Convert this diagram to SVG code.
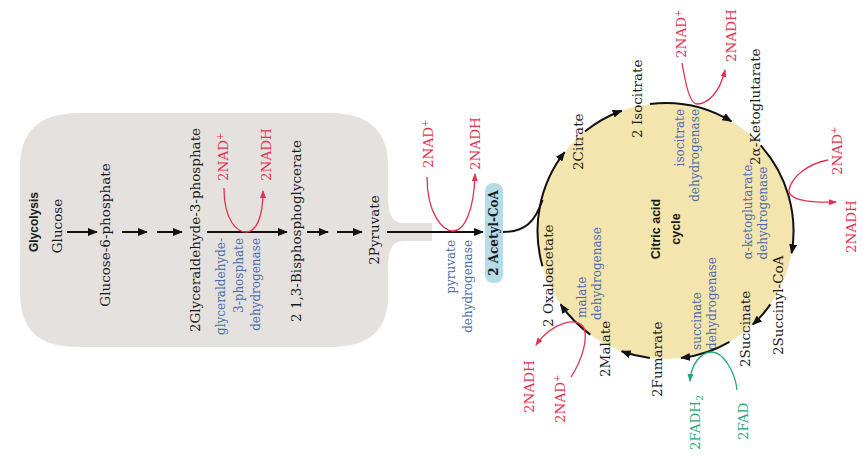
<svg xmlns="http://www.w3.org/2000/svg" width="867" height="456" viewBox="0 0 867 456">
<style>
.c{font-family:"DejaVu Serif","Liberation Serif",serif;font-size:13.5px;fill:#1a1a1a}
.e{font-family:"DejaVu Serif","Liberation Serif",serif;font-size:12px;fill:#4a6cad}
.r{font-family:"DejaVu Serif","Liberation Serif",serif;font-size:13.5px;fill:#e3324f}
.g{font-family:"DejaVu Serif","Liberation Serif",serif;font-size:13.5px;fill:#1fa97a}
.h{font-family:"Liberation Sans",Arial,sans-serif;font-weight:bold;fill:#1a1a1a}
.m{text-anchor:middle}
.n{text-anchor:end}
.k{fill:none;stroke:#111;stroke-width:2}
.rl{fill:none;stroke:#e3324f;stroke-width:1.3}
.gl{fill:none;stroke:#1fa97a;stroke-width:1.3}
</style>
<defs>
<marker id="ah" viewBox="0 0 10 8" markerWidth="10" markerHeight="8" refX="9" refY="4" orient="auto" markerUnits="userSpaceOnUse"><path d="M0,0 L10,4 L0,8 z" fill="#111"/></marker>
<marker id="ar" viewBox="0 0 8 6" markerWidth="8" markerHeight="6" refX="7" refY="3" orient="auto" markerUnits="userSpaceOnUse"><path d="M0,0 L8,3 L0,6 z" fill="#e3324f"/></marker>
<marker id="ag" viewBox="0 0 8 6" markerWidth="8" markerHeight="6" refX="7" refY="3" orient="auto" markerUnits="userSpaceOnUse"><path d="M0,0 L8,3 L0,6 z" fill="#1fa97a"/></marker>
</defs>
<rect width="867" height="456" fill="#ffffff"/>

<g id="glycolysis-panel">
<path d="M80,113 H330 C370,113 388,132 388,165 V196 C388,214 392,223 404,223 H432 V241 H404 C392,241 388,250 388,268 V296 C388,330 370,347 330,347 H80 C38,347 20,330 20,292 V168 C20,132 38,113 80,113 Z" fill="#e4e1df"/>
<text class="h m" font-size="12" transform="translate(38,222) rotate(-90)">Glycolysis</text>
</g>

<g id="citric-cycle">
<circle cx="665.5" cy="231" r="128" fill="#f4e4ae"/>
<text class="h m" font-size="12.5" transform="translate(660,229) rotate(-90)">Citric acid</text>
<text class="h m" font-size="12.5" transform="translate(680,229) rotate(-90)">cycle</text>
</g>

<g id="glucose"><text class="c m" transform="translate(62,226) rotate(-90)">Glucose</text></g>
<g id="glucose-6-phosphate"><text class="c m" transform="translate(110,235) rotate(-90)">Glucose-6-phosphate</text></g>
<g id="glyceraldehyde-3-phosphate"><text class="c m" transform="translate(200,230) rotate(-90)">2Glyceraldehyde-3-phosphate</text></g>
<g id="bisphosphoglycerate"><text class="c m" transform="translate(301,231) rotate(-90)">2 1,3-Bisphosphoglycerate</text></g>
<g id="pyruvate"><text class="c m" transform="translate(379,230) rotate(-90)">2Pyruvate</text></g>
<g id="acetyl-coa">
<rect x="485" y="183" width="18" height="100" rx="8" fill="#b6dbe9"/>
<text font-family="'DejaVu Serif','Liberation Serif',serif" font-weight="bold" font-size="12" fill="#1a1a1a" text-anchor="middle" transform="translate(498,233) rotate(-90)">2 Acetyl-CoA</text>
</g>
<g id="citrate"><text class="c" transform="translate(583,170) rotate(-90)">2Citrate</text></g>
<g id="isocitrate"><text class="c" transform="translate(642,138) rotate(-90)">2 Isocitrate</text></g>
<g id="ketoglutarate"><text class="c" transform="translate(760,165) rotate(-90)">2α-Ketoglutarate</text></g>
<g id="succinyl-coa"><text class="c" transform="translate(783,355) rotate(-90)">2Succinyl-CoA</text></g>
<g id="succinate"><text class="c" transform="translate(750,367) rotate(-90)">2Succinate</text></g>
<g id="fumarate"><text class="c" transform="translate(662,397) rotate(-90)">2Fumarate</text></g>
<g id="malate"><text class="c" transform="translate(610,377) rotate(-90)">2Malate</text></g>
<g id="oxaloacetate"><text class="c" transform="translate(553,327) rotate(-90)">2 Oxaloacetate</text></g>

<g id="enzyme-gapdh">
<text class="e n" transform="translate(225,238) rotate(-90)">glyceraldehyde-</text>
<text class="e n" transform="translate(242.5,238) rotate(-90)">3-phosphate</text>
<text class="e n" transform="translate(260,238) rotate(-90)">dehydrogenase</text>
</g>
<g id="enzyme-pdh">
<text class="e n" transform="translate(455,240) rotate(-90)">pyruvate</text>
<text class="e n" transform="translate(472,240) rotate(-90)">dehydrogenase</text>
</g>
<g id="enzyme-idh">
<text class="e n" transform="translate(684,109) rotate(-90)">isocitrate</text>
<text class="e n" transform="translate(699,109) rotate(-90)">dehydrogenase</text>
</g>
<g id="enzyme-akgdh">
<text class="e m" transform="translate(752,212) rotate(-90)">α-ketoglutarate</text>
<text class="e m" transform="translate(767,213) rotate(-90)">dehydrogenase</text>
</g>
<g id="enzyme-sdh">
<text class="e" transform="translate(701,350) rotate(-90)">succinate</text>
<text class="e" transform="translate(716,350) rotate(-90)">dehydrogenase</text>
</g>
<g id="enzyme-mdh">
<text class="e" transform="translate(586,318) rotate(-90)">malate</text>
<text class="e" transform="translate(601,320) rotate(-90)">dehydrogenase</text>
</g>

<g id="cofactors">
<text class="r" transform="translate(228,181) rotate(-90)">2NAD<tspan font-size="9" dy="-5">+</tspan></text>
<text class="r" transform="translate(271,181) rotate(-90)">2NADH</text>
<text class="r" transform="translate(433,168) rotate(-90)">2NAD<tspan font-size="9" dy="-5">+</tspan></text>
<text class="r" transform="translate(480,170) rotate(-90)">2NADH</text>
<text class="r" transform="translate(686,58) rotate(-90)">2NAD<tspan font-size="9" dy="-5">+</tspan></text>
<text class="r" transform="translate(736,62) rotate(-90)">2NADH</text>
<text class="r" transform="translate(842,175) rotate(-90)">2NAD<tspan font-size="9" dy="-5">+</tspan></text>
<text class="r" transform="translate(856,253) rotate(-90)">2NADH</text>
<text class="r" transform="translate(534,413) rotate(-90)">2NADH</text>
<text class="r" transform="translate(565,423) rotate(-90)">2NAD<tspan font-size="9" dy="-5">+</tspan></text>
<text class="g" transform="translate(700,450) rotate(-90)">2FADH<tspan font-size="9" dy="3">2</tspan></text>
<text class="g" transform="translate(748,440) rotate(-90)">2FAD</text>
</g>

<g id="connectors">
<line class="k" x1="67" y1="232" x2="97" y2="232" marker-end="url(#ah)"/>
<line class="k" x1="122" y1="232" x2="147" y2="232" marker-end="url(#ah)"/>
<line class="k" x1="157" y1="232" x2="182" y2="232" marker-end="url(#ah)"/>
<line class="k" x1="207" y1="232" x2="287" y2="232" marker-end="url(#ah)"/>
<line class="k" x1="307" y1="232" x2="328" y2="232" marker-end="url(#ah)"/>
<line class="k" x1="337" y1="232" x2="362" y2="232" marker-end="url(#ah)"/>
<line class="k" x1="387" y1="232" x2="483" y2="232" marker-end="url(#ah)"/>
<path class="k" d="M503,232 C525,232 535,222 542.5,200"/>
<path class="k" d="M542.5,266.3 A128,128 0 0 1 564.6,152.2" marker-end="url(#ah)"/>
<path class="k" d="M584.9,131.5 A128,128 0 0 1 621.7,110.7" marker-end="url(#ah)"/>
<path class="k" d="M649.9,104 A128,128 0 0 1 731.4,121.3" marker-end="url(#ah)"/>
<path class="k" d="M760.6,145.4 A128,128 0 0 1 791.6,253.2" marker-end="url(#ah)"/>
<path class="k" d="M770.4,304.4 A128,128 0 0 1 752.8,324.6" marker-end="url(#ah)"/>
<path class="k" d="M729.5,341.8 A128,128 0 0 1 681.1,358" marker-end="url(#ah)"/>
<path class="k" d="M649.9,358 A128,128 0 0 1 621.7,351.3" marker-end="url(#ah)"/>
<path class="k" d="M590.3,334.6 A128,128 0 0 1 560.6,304.4" marker-end="url(#ah)"/>
<path class="rl" d="M224,188 C224,222 238,232 246,232 C256,232 263,218 263,191" marker-end="url(#ar)"/>
<path class="rl" d="M427,177 C427,214 443,231 453,231 C464,231 474,212 475,174" marker-end="url(#ar)"/>
<path class="rl" d="M682,63 C686,86 690,104 697,104 C708,104 720,92 725,70" marker-end="url(#ar)"/>
<path class="rl" d="M828,160 C808,164 792,176 789,190 C788,200 810,203 836,202" marker-end="url(#ar)"/>
<path class="rl" d="M571,377 C582,360 588,340 584,328 C578,316 552,322 536,345" marker-end="url(#ar)"/>
<path class="gl" d="M737,390 C735,370 722,352 712,352 C700,352 691,365 690,381" marker-end="url(#ag)"/>
</g>
</svg>
